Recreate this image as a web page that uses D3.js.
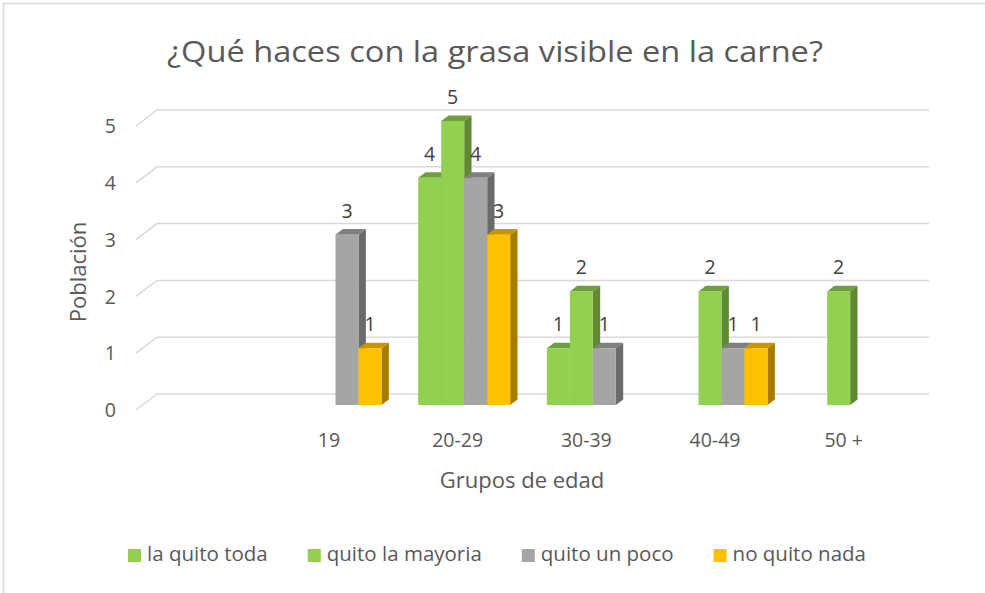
<!DOCTYPE html>
<html>
<head>
<meta charset="utf-8">
<script src="https://cdn.jsdelivr.net/npm/d3@7"></script>
<style>
  html, body { margin: 0; padding: 0; background: #fff; }
  svg { display: block; font-family: "Open Sans", "Noto Sans", sans-serif; }
</style>
</head>
<body>
<svg id="chart" width="985" height="593"></svg>
<script>
const categories = ["", "19", "20-29", "30-39", "40-49", "50 +"];
const seriesNames = ["la quito toda", "quito la mayoria", "quito un poco", "no quito nada"];
const laQuitoToda = [null, null, 4, 1, null, null];
const quitoLaMayoria = [null, null, 5, 2, 2, 2];
const quitoUnPoco = [null, 3, 4, 1, 1, null];
const noQuitoNada = [null, 1, 3, null, 1, null];
const yTicks = [0, 1, 2, 3, 4, 5];

const seriesValues = [laQuitoToda, quitoLaMayoria, quitoUnPoco, noQuitoNada];
// front, top, side
const palette = [
  ["#92d050", "#6f9e3e", "#5f8a33"],
  ["#92d050", "#6f9e3e", "#5f8a33"],
  ["#a5a5a5", "#7f7f7f", "#6b6b6b"],
  ["#ffc000", "#c89600", "#a67c00"]
];

const svg = d3.select("#chart");
const textColor = "#595959";
const labelSize = 19.5;

// chart border (left / top only visible)
svg.append("path")
  .attr("d", "M3.5,593V3.5H985")
  .attr("fill", "none")
  .attr("stroke", "#d9d9d9")
  .attr("stroke-width", 1.5);

const x0 = d3.scaleBand().domain(categories).range([136, 908]);
const groupW = x0.bandwidth() * 0.715;
const x1 = d3.scaleBand().domain(seriesNames).range([0, groupW]);
const y = d3.scaleLinear().domain([0, 5]).range([410, 126]);

// depth projection
const DX = 21, DY = -16;
const zFront = 0.31, zBack = 0.66;
const proj = (x, v, z) => [x + DX * z, y(v) + DY * z];
const poly = pts => "M" + pts.map(p => p.join(",")).join("L") + "Z";

// gridlines: short diagonal on the side wall then along the back wall
const grid = svg.append("g");
yTicks.forEach(t => {
  const a = proj(x0.range()[0], t, 0);
  const b = proj(x0.range()[0], t, 1);
  const c = proj(x0.range()[1], t, 1);
  grid.append("path")
    .attr("d", `M${a}L${b}L${c}`)
    .attr("fill", "none")
    .attr("stroke", "#d9d9d9")
    .attr("stroke-width", 1.5);
});

// y tick labels
svg.append("g").selectAll("text")
  .data(yTicks)
  .join("text")
  .attr("x", 116)
  .attr("y", d => y(d) + 2)
  .attr("dominant-baseline", "middle")
  .attr("text-anchor", "end")
  .attr("font-size", labelSize)
  .attr("fill", textColor)
  .text(d => d);

// bars, drawn left to right so later fronts cover earlier sides
const bars = svg.append("g");
const labels = [];
categories.forEach((cat, ci) => {
  const gx = x0(cat) + (x0.bandwidth() - groupW) / 2;
  seriesNames.forEach((s, si) => {
    const v = seriesValues[si][ci];
    if (v == null) return;
    const xa = gx + x1(s);
    const xb = xa + x1.bandwidth();
    const [fc, tc, sc] = palette[si];
    bars.append("path")
      .attr("d", poly([proj(xb, 0, zFront), proj(xb, v, zFront), proj(xb, v, zBack), proj(xb, 0, zBack)]))
      .attr("fill", sc);
    bars.append("path")
      .attr("d", poly([proj(xa, v, zFront), proj(xb, v, zFront), proj(xb, v, zBack), proj(xa, v, zBack)]))
      .attr("fill", tc);
    const p0 = proj(xa, v, zFront);
    const p1 = proj(xb, 0, zFront);
    bars.append("rect")
      .attr("x", p0[0])
      .attr("y", p0[1])
      .attr("width", p1[0] - p0[0])
      .attr("height", p1[1] - p0[1])
      .attr("fill", fc);
    labels.push({ x: (p0[0] + p1[0]) / 2, y: p0[1] - 17, v });
  });
});

// value labels
svg.append("g").selectAll("text")
  .data(labels)
  .join("text")
  .attr("x", d => d.x)
  .attr("y", d => d.y)
  .attr("text-anchor", "middle")
  .attr("font-size", labelSize)
  .attr("fill", "#404040")
  .text(d => d.v);

// category labels
svg.append("g").selectAll("text")
  .data(categories)
  .join("text")
  .attr("x", d => x0(d) + x0.bandwidth() / 2)
  .attr("y", 447)
  .attr("text-anchor", "middle")
  .attr("font-size", labelSize)
  .attr("fill", textColor)
  .text(d => d);

// titles
svg.append("text")
  .attr("x", 495)
  .attr("y", 62)
  .attr("text-anchor", "middle")
  .attr("font-size", 30)
  .attr("textLength", 656)
  .attr("lengthAdjust", "spacingAndGlyphs")
  .attr("fill", textColor)
  .text("¿Qué haces con la grasa visible en la carne?");

svg.append("text")
  .attr("x", 522)
  .attr("y", 488)
  .attr("text-anchor", "middle")
  .attr("font-size", 22)
  .attr("fill", textColor)
  .text("Grupos de edad");

svg.append("text")
  .attr("transform", "translate(86,272) rotate(-90)")
  .attr("text-anchor", "middle")
  .attr("font-size", 22)
  .attr("fill", textColor)
  .text("Población");

// legend
const legendGap = 40;
const legend = svg.append("g");
const items = legend.selectAll("g")
  .data(seriesNames)
  .join("g");
items.append("rect")
  .attr("width", 13)
  .attr("height", 13)
  .attr("y", -7)
  .attr("fill", (d, i) => palette[i][0]);
items.append("text")
  .attr("x", 19)
  .attr("y", 0)
  .attr("dominant-baseline", "middle")
  .attr("font-size", 20.5)
  .attr("fill", textColor)
  .text(d => d);
let lx = 0;
const offsets = [];
items.each(function () {
  offsets.push(lx);
  lx += 19 + this.querySelector("text").getComputedTextLength() + legendGap;
});
const totalW = lx - legendGap;
const startX = 497 - totalW / 2;
items.attr("transform", (d, i) => `translate(${startX + offsets[i]},556)`);
</script>
</body>
</html>
